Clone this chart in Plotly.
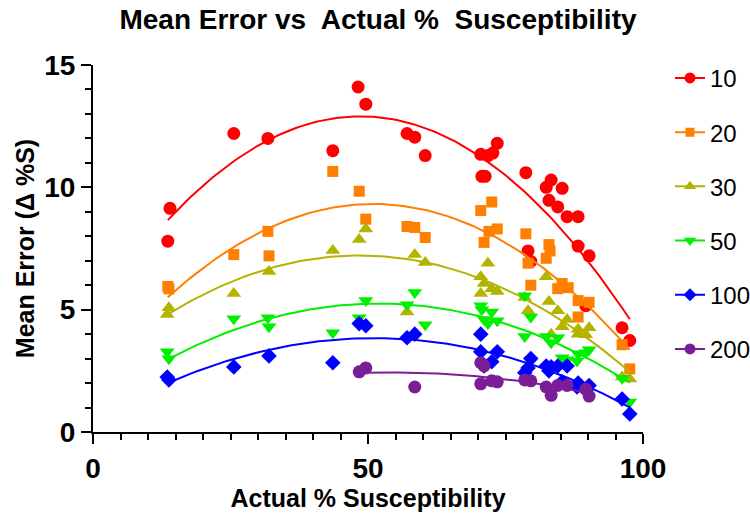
import numpy as np
import plotly.graph_objects as go

#############################################
# Data
#############################################

x_10 = [13.6, 14.0, 25.6, 31.8, 43.6, 48.2, 49.6, 57.1, 58.5, 60.4, 70.5, 70.7, 71.3, 71.8, 72.7, 73.5,
        78.7, 79.1, 79.6, 82.4, 82.9, 83.3, 84.5, 85.3, 86.2, 88.2, 88.2, 89.6, 90.2, 96.2, 97.6]
y_10 = [7.8, 9.14, 12.2, 12.0, 11.5, 14.1, 13.4, 12.2, 12.05, 11.3, 11.35, 10.45, 10.45, 11.3, 11.4, 11.8,
        10.6, 7.4, 6.97, 10.0, 9.47, 10.3, 9.2, 9.96, 8.8, 8.8, 7.6, 5.16, 7.2, 4.26, 3.74]

x_20 = [13.6, 13.8, 25.6, 31.8, 32.0, 43.6, 48.4, 49.6, 57.1, 58.5, 60.4, 70.5, 71.1, 72.0, 72.5, 73.5,
        78.7, 79.1, 79.6, 82.4, 82.9, 83.1, 84.5, 85.3, 86.4, 88.2, 88.2, 90.2, 96.2, 97.6]
y_20 = [5.95, 5.85, 7.25, 8.2, 7.2, 10.65, 9.84, 8.7, 8.4, 8.36, 7.95, 9.05, 7.75, 8.2, 9.4, 8.3,
        8.1, 6.9, 6.0, 7.1, 7.66, 7.4, 5.86, 6.07, 5.9, 5.37, 4.7, 5.3, 3.57, 2.58]

x_30 = [13.5, 13.8, 25.6, 32.0, 43.6, 48.4, 49.6, 57.1, 58.5, 60.4, 70.5, 70.5, 71.1, 71.8, 72.5, 73.5,
        78.5, 79.1, 82.4, 82.9, 83.3, 84.5, 85.3, 86.2, 88.2, 88.2, 89.6, 90.2, 96.2, 97.6]
y_30 = [4.8, 5.08, 5.66, 6.56, 7.42, 7.87, 8.3, 4.9, 7.25, 6.93, 6.35, 5.66, 6.07, 6.9, 5.86, 5.74,
        5.5, 4.96, 6.35, 5.33, 4.0, 4.96, 4.3, 4.6, 4.2, 4.0, 3.97, 4.26, 2.25, 2.17]

x_50 = [13.5, 13.8, 25.6, 31.8, 32.0, 43.6, 48.4, 49.6, 57.1, 58.5, 60.4, 70.5, 70.7, 71.1, 71.8, 72.5,
        73.5, 78.5, 78.5, 79.6, 82.4, 83.3, 84.5, 85.3, 86.2, 88.0, 88.2, 89.6, 90.2, 96.2, 97.6]
y_50 = [3.28, 2.99, 4.63, 4.67, 4.3, 4.06, 4.67, 5.37, 5.2, 5.7, 4.38, 5.16, 5.0, 4.6, 4.43, 4.9,
        4.55, 5.57, 3.9, 4.7, 3.9, 3.65, 3.85, 3.03, 2.95, 2.9, 3.2, 3.24, 3.36, 2.2, 1.23]

x_100 = [13.5, 13.8, 25.6, 32.0, 43.6, 48.4, 49.6, 57.1, 58.5, 70.5, 70.5, 71.1, 72.5, 73.5, 78.5,
         79.1, 79.6, 82.4, 82.9, 83.3, 84.5, 85.3, 86.2, 88.0, 88.2, 89.6, 90.2, 96.2, 97.6]
y_100 = [2.25, 2.13, 2.66, 3.11, 2.83, 4.43, 4.34, 3.85, 4.0, 4.0, 3.28, 2.7, 2.87, 3.28, 2.42,
         2.62, 3.0, 2.7, 2.5, 2.66, 2.7, 2.05, 2.7, 1.84, 2.0, 1.72, 1.9, 1.35, 0.74]

x_200 = [48.4, 49.6, 58.5, 70.5, 71.1, 70.5, 72.5, 73.5, 78.5, 79.6, 82.4, 83.3, 84.5, 86.2, 89.6, 90.2]
y_200 = [2.46, 2.62, 1.84, 2.83, 2.7, 1.97, 2.09, 2.05, 2.13, 2.09, 1.84, 1.5, 1.9, 1.9, 1.75, 1.47]

series_names = ['10', '20', '30', '50', '100', '200']
series_x = [x_10, x_20, x_30, x_50, x_100, x_200]
series_y = [y_10, y_20, y_30, y_50, y_100, y_200]
colors = ['#FF0000', '#FF8000', '#B4B400', '#00F000', '#0000FF', '#7A1E98']
symbols = ['circle', 'square', 'triangle-up', 'triangle-down', 'diamond', 'circle']
sizes = [13, 11, 13, 13, 12, 13]

FONT = 'Liberation Sans, Arial, sans-serif'

#############################################
# Plot
#############################################

fig = go.Figure()
for name, xs, ys, col, sym, sz in zip(series_names, series_x, series_y, colors, symbols, sizes):
    # Second order polynomial fit across the data range
    coef = np.polyfit(xs, ys, 2)
    xf = np.linspace(min(xs), max(xs), 120)
    fig.add_trace(go.Scatter(x=xf, y=np.polyval(coef, xf), mode='lines',
                             line=dict(color=col, width=2), showlegend=False, hoverinfo='skip'))
    fig.add_trace(go.Scatter(x=xs, y=ys, mode='markers', showlegend=False,
                             marker=dict(color=col, symbol=sym, size=sz, line=dict(width=0))))
    # legend entry: marker with a short line
    fig.add_trace(go.Scatter(x=[None], y=[None], mode='lines+markers', name=name, legendgroup=name,
                             line=dict(color=col, width=2),
                             marker=dict(color=col, symbol=sym, size=sz - 2)))

# plot area spans 93..643 px; the right margin is left to the legend
fig.update_layout(
    width=750, height=517,
    margin=dict(l=93, r=0, t=65, b=85, autoexpand=False),
    plot_bgcolor='white', paper_bgcolor='white',
    font=dict(family=FONT, color='black'),
    title=dict(text='<b>Mean Error vs\u00a0 Actual %\u00a0 Susceptibility</b>',
               x=378 / 750, xanchor='center', y=0.962, yanchor='middle',
               font=dict(size=28, family=FONT)),
    legend=dict(x=(670 - 93) / 657, xanchor='left', y=1.025, yanchor='top', font=dict(size=24, family=FONT),
                tracegroupgap=20, itemwidth=30, maxheight=480, bgcolor='rgba(0,0,0,0)'),
)
fig.update_xaxes(range=[0, 100], domain=[0, 550 / 657], tickvals=[0, 50, 100], showgrid=False,
                 zeroline=False, automargin=False,
                 showline=True, linecolor='black', linewidth=2,
                 ticks='outside', ticklen=10, tickwidth=2, tickcolor='black',
                 tickfont=dict(size=28, family=FONT, weight='bold'),
                 minor=dict(dtick=5, ticks='outside', ticklen=6, tickwidth=2, tickcolor='black', showgrid=False),
                 title=dict(text='<b>Actual % Susceptibility</b>', font=dict(size=25, family=FONT), standoff=6))
fig.update_yaxes(range=[0, 15], tickvals=[0, 5, 10, 15], showgrid=False, zeroline=False, automargin=False,
                 showline=True, linecolor='black', linewidth=2,
                 ticks='outside', ticklen=10, tickwidth=2, tickcolor='black',
                 tickfont=dict(size=28, family=FONT, weight='bold'),
                 minor=dict(dtick=1, ticks='outside', ticklen=6, tickwidth=2, tickcolor='black', showgrid=False),
                 title=dict(text='<b>Mean Error (\u0394 %S)</b>', font=dict(size=25, family=FONT), standoff=2))

# drop the page's default body margin so the figure sits at the window's corner
fig.write_html("out.html", config={'displayModeBar': False},
               post_script="document.body.style.margin='0';")
